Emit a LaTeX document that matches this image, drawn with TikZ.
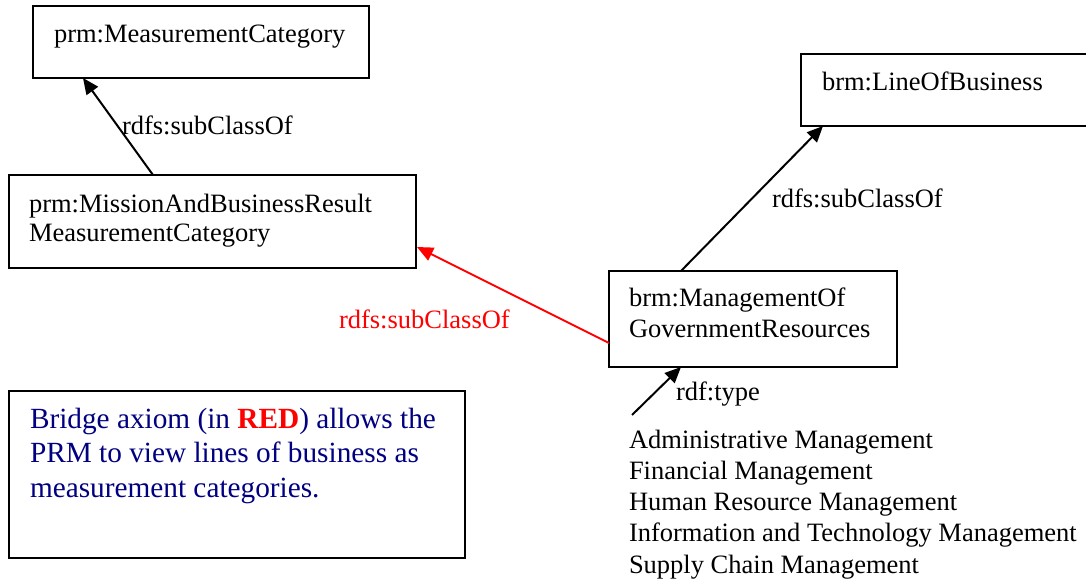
\documentclass[tikz,border=0pt]{standalone}
\usepackage{fontspec}
\setmainfont{Liberation Serif}
\usetikzlibrary{arrows.meta,calc}
\definecolor{notenavy}{RGB}{0,0,128}
\definecolor{bridgered}{RGB}{255,0,0}
\begin{document}
\begin{tikzpicture}[x=1bp,y=-1bp,
  classbox/.style={draw=black,line width=2bp,rectangle,inner sep=0pt,outer sep=0pt,anchor=north west},
  % multi-line texts are anchored at the baseline of their last line
  txt/.style={inner sep=0pt,outer sep=0pt,anchor=base west,align=left,
    font=\fontsize{26.6pt}{31pt}\selectfont},
  rel/.style={line width=2bp,-{Triangle[length=16bp,width=14bp]}},
  bridge/.style={rel,draw=bridgered}]
\useasboundingbox (0,0) rectangle (1086,581);

% class boxes
\node[classbox,minimum width=336bp,minimum height=72bp] (mc) at (33,6) {};
\node[classbox,minimum width=407bp,minimum height=93bp] (mbr) at (9,175) {};
\node[classbox,minimum width=289bp,minimum height=72bp] (lob) at (801,54) {};
\node[classbox,minimum width=288bp,minimum height=96bp] (mgr) at (609,271) {};
\node[classbox,minimum width=456bp,minimum height=167bp] (note) at (9,391) {};

% class names
\node[txt] (mctext) at (54,43) {prm:MeasurementCategory};
\node[txt,font=\fontsize{26.6pt}{30pt}\selectfont] (mbrtext) at (29,242)
  {prm:MissionAndBusinessResult\\MeasurementCategory};
\node[txt] (lobtext) at (822,91) {brm:LineOfBusiness};
\node[txt] (mgrtext) at (629,337) {brm:ManagementOf\\GovernmentResources};

% instances of the management line of business
\node[txt,font=\fontsize{26.6pt}{31.3pt}\selectfont] (inst) at (629,573)
  {Administrative Management\\Financial Management\\Human Resource Management\\
   Information and Technology Management\\Supply Chain Management};

% explanatory note
\node[txt,text=notenavy,font=\fontsize{29.4pt}{34.6pt}\selectfont] (notetext) at (30,497)
  {Bridge axiom (in \textbf{\textcolor{bridgered}{RED}}) allows the\\
   PRM to view lines of business as\\measurement categories.};

% subclass relations
\draw[rel] ($(mbr.north west)+(144,0)$) -- ($(mc.south west)+(50,0)$);
\draw[rel] ($(mgr.north west)+(72,0)$) -- ($(lob.south west)+(22,0)$);
\draw[bridge] ($(mgr.north west)+(0,72)$) -- ($(mbr.north east)+(1,72)$);

% rdf:type link from the instance list
\coordinate (typefoot) at (632,415);
\draw[rel] (typefoot) -- ($(mgr.south west)+(72,0)$);

% relation labels
\node[txt] (l1) at (122,135) {rdfs:subClassOf};
\node[txt] (l2) at (772,208) {rdfs:subClassOf};
\node[txt,text=bridgered] (l3) at (339,328) {rdfs:subClassOf};
\node[txt] (l4) at (676,400) {rdf:type};
\end{tikzpicture}
\end{document}
